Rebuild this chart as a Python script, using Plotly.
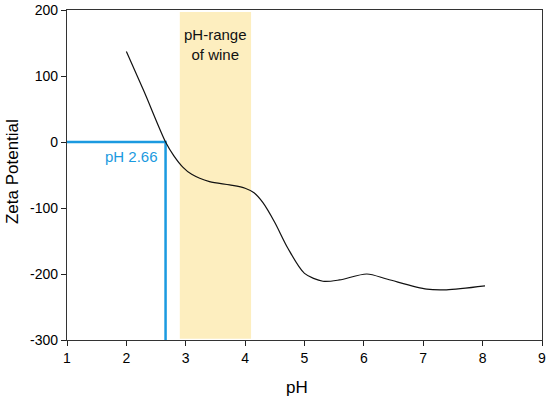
import plotly.graph_objects as go

ph = [2.0, 2.3, 2.66, 2.8, 2.95, 3.1, 3.4, 3.74, 4.0, 4.15, 4.3, 4.5, 4.72, 5.0, 5.31, 5.59, 6.05, 6.4, 7.06, 7.39, 8.04]
zeta = [137, 76, 0, -21, -38, -49, -60, -65, -70, -77, -92, -122, -161, -199, -211, -209, -200, -208, -223, -224, -218]

iep_ph = 2.66
wine_range = [2.9, 4.1]
x_ticks = [1, 2, 3, 4, 5, 6, 7, 8, 9]
y_ticks = [-300, -200, -100, 0, 100, 200]
y_tick_text = ["-300", "-200", "-100", "0", "100", "200"]

blue = "#1b9ae0"
font = "Liberation Sans, Arial, sans-serif"

fig = go.Figure()

fig.add_shape(type="rect", xref="x", yref="y", x0=wine_range[0], x1=wine_range[1],
              y0=-298, y1=197, fillcolor="#fdeebf", line=dict(width=0), layer="below")

fig.add_trace(go.Scatter(x=[1, iep_ph, iep_ph], y=[0, 0, -300], mode="lines",
                         line=dict(color=blue, width=2.5), hoverinfo="skip", showlegend=False))

fig.add_trace(go.Scatter(x=ph, y=zeta, mode="lines",
                         line=dict(color="#111111", width=1.2, shape="spline", smoothing=0.8),
                         showlegend=False))

fig.add_annotation(x=iep_ph - 0.09, y=-22, xref="x", yref="y", text="pH 2.66", showarrow=False,
                   xanchor="right", yanchor="middle", font=dict(family=font, size=15, color=blue))
fig.add_annotation(x=sum(wine_range) / 2, y=148, xref="x", yref="y", text="pH-range<br>of wine", showarrow=False,
                   xanchor="center", yanchor="middle", font=dict(family=font, size=15, color="#111111"))

fig.add_annotation(x=0.485, y=-0.145, xref="paper", yref="paper", text="pH", showarrow=False,
                   xanchor="center", yanchor="middle", font=dict(family=font, size=17, color="black"))
fig.add_annotation(x=-0.115, y=0.51, xref="paper", yref="paper", text="Zeta Potential", showarrow=False,
                   textangle=-90, xanchor="center", yanchor="middle", font=dict(family=font, size=17, color="black"))

fig.update_layout(
    width=550, height=399,
    margin=dict(l=67, r=8, t=10, b=59),
    plot_bgcolor="white", paper_bgcolor="white",
    font=dict(family=font, size=13, color="black"),
    xaxis=dict(range=[1, 9], tickvals=x_ticks, ticks="outside", ticklen=5, tickcolor="#222",
               showline=True, linecolor="#333", linewidth=1.2, mirror=True, showgrid=False, zeroline=False,
               automargin=False, ticklabeloverflow="allow", tickfont=dict(size=14)),
    yaxis=dict(range=[-300, 200], tickvals=y_ticks, ticktext=y_tick_text, ticks="outside", ticklen=5,
               tickcolor="#222", showline=True, linecolor="#333", linewidth=1.2, mirror=True,
               showgrid=False, zeroline=False, automargin=False, ticklabeloverflow="allow",
               tickfont=dict(size=14)),
)

fig.write_html("out.html", config={"displayModeBar": False},
               post_script="document.body.style.margin='0';")
